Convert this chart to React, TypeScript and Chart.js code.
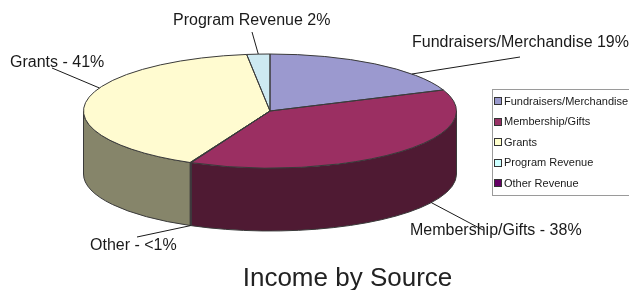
import { useEffect, useRef } from "react";
import { Chart, registerables } from "chart.js";

Chart.register(...registerables);

// ---- data (pie order, clockwise from 12 o'clock) ----
const categories = [
  "Fundraisers/Merchandise",
  "Membership/Gifts",
  "Other Revenue",
  "Grants",
  "Program Revenue",
];
const shares = [19, 38, 0.1, 41, 2];
const sliceLabels = [
  "Fundraisers/Merchandise 19%",
  "Membership/Gifts - 38%",
  "Other - <1%",
  "Grants - 41%",
  "Program Revenue 2%",
];
const legendOrder = [0, 1, 3, 4, 2];
const chartTitle = "Income by Source";

// ---- styles ----
const topColors = ["#9b99cf", "#9b2f62", "#660066", "#fffbd0", "#cde9f1"];
const sideColors = ["#4d4c80", "#4f1a33", "#3a0a3a", "#86856a", "#6a8a90"];
const legendColors = ["#9999cc", "#993366", "#660066", "#ffffcc", "#ccffff"];
const OUTLINE = "#3a3a3a";
const FONT = "'Liberation Sans', Arial, Helvetica, sans-serif";
const GEOM = { cx: 270, cy: 111, rx: 186.5, ry: 57, depth: 63 };

// label placement: fraction within slice, face of the pie, text origin, leader start
const labelLayout = [
  { t: 0.725, face: "top", tx: 412, ty: 47, lx: 520, ly: 57 },
  { t: 0.379, face: "bottom", tx: 410, ty: 235, lx: 483, ly: 230 },
  { t: 0.5, face: "bottom", tx: 90, ty: 250, lx: 137, ly: 237 },
  { t: 0.6, face: "top", tx: 10, ty: 67, lx: 52, ly: 68 },
  { t: 0.5, face: "top", tx: 173, ty: 25, lx: 252, ly: 32 },
];

const pie3d = {
  id: "pie3d",
  beforeDatasetsDraw(chart: any) {
    const ctx = chart.ctx as CanvasRenderingContext2D;
    const arcs = chart.getDatasetMeta(0).data as any[];
    if (!arcs.length) return;
    const { cx, cy, rx, ry, depth } = GEOM;
    ctx.save();
    ctx.lineWidth = 1;
    ctx.strokeStyle = OUTLINE;
    ctx.lineJoin = "round";
    arcs.forEach((arc, i) => {
      const { startAngle, endAngle } = arc.getProps(["startAngle", "endAngle"], true);
      const a1 = Math.max(startAngle, 0);
      const a2 = Math.min(endAngle, Math.PI);
      if (a2 <= a1) return;
      ctx.beginPath();
      ctx.ellipse(cx, cy, rx, ry, 0, a1, a2);
      ctx.lineTo(cx + rx * Math.cos(a2), cy + depth + ry * Math.sin(a2));
      ctx.ellipse(cx, cy + depth, rx, ry, 0, a2, a1, true);
      ctx.closePath();
      ctx.fillStyle = sideColors[i];
      ctx.fill();
      ctx.stroke();
    });
    ctx.restore();
    const { x, y, outerRadius } = arcs[0].getProps(["x", "y", "outerRadius"], true);
    ctx.save();
    ctx.translate(cx, cy);
    ctx.scale(rx / outerRadius, ry / outerRadius);
    ctx.translate(-x, -y);
  },
  afterDatasetsDraw(chart: any) {
    const ctx = chart.ctx as CanvasRenderingContext2D;
    ctx.restore();
    const arcs = chart.getDatasetMeta(0).data as any[];
    if (!arcs.length) return;
    const { cx, cy, rx, ry, depth } = GEOM;
    ctx.save();
    ctx.lineWidth = 1;
    ctx.strokeStyle = OUTLINE;
    ctx.lineJoin = "round";
    arcs.forEach((arc) => {
      const { startAngle, endAngle } = arc.getProps(["startAngle", "endAngle"], true);
      ctx.beginPath();
      ctx.moveTo(cx, cy);
      ctx.lineTo(cx + rx * Math.cos(startAngle), cy + ry * Math.sin(startAngle));
      ctx.ellipse(cx, cy, rx, ry, 0, startAngle, endAngle);
      ctx.closePath();
      ctx.stroke();
    });
    // labels with leader lines
    ctx.fillStyle = "#1a1a1a";
    ctx.strokeStyle = "#1a1a1a";
    ctx.font = `16px ${FONT}`;
    ctx.textBaseline = "alphabetic";
    ctx.textAlign = "left";
    arcs.forEach((arc, i) => {
      const L = labelLayout[i];
      const { startAngle, endAngle } = arc.getProps(["startAngle", "endAngle"], true);
      const a = startAngle + (endAngle - startAngle) * L.t;
      const ey = (L.face === "bottom" ? cy + depth : cy) + ry * Math.sin(a);
      const ex = cx + rx * Math.cos(a);
      ctx.beginPath();
      ctx.moveTo(L.lx, L.ly);
      ctx.lineTo(ex, ey);
      ctx.stroke();
      ctx.fillText(sliceLabels[i], L.tx, L.ty);
    });
    ctx.restore();
  },
  afterDraw(chart: any) {
    const ctx = chart.ctx as CanvasRenderingContext2D;
    ctx.save();
    ctx.strokeStyle = "#9a9a9a";
    ctx.lineWidth = 1;
    ctx.strokeRect(492.5, 89.5, 140, 106);
    ctx.font = `11px ${FONT}`;
    ctx.textBaseline = "middle";
    ctx.textAlign = "left";
    legendOrder.forEach((idx, k) => {
      const yc = 101 + k * 20.5;
      ctx.fillStyle = legendColors[idx];
      ctx.fillRect(495, Math.round(yc) - 3, 6, 6);
      ctx.strokeStyle = "#333";
      ctx.strokeRect(494.5, Math.round(yc) - 3.5, 7, 7);
      ctx.fillStyle = "#1a1a1a";
      ctx.fillText(categories[idx], 504, yc + 0.5);
    });
    ctx.restore();
  },
};

export default function App() {
  const ref = useRef<HTMLCanvasElement>(null);
  useEffect(() => {
    const chart = new Chart(ref.current as HTMLCanvasElement, {
      type: "pie",
      data: {
        labels: categories,
        datasets: [{ data: shares, backgroundColor: topColors, borderWidth: 0 }],
      },
      options: {
        responsive: false,
        animation: false,
        events: [],
        layout: { padding: { left: 66 } },
        plugins: {
          legend: { display: false },
          tooltip: { enabled: false },
          title: {
            display: true,
            text: chartTitle,
            position: "bottom",
            color: "#222",
            padding: 0,
            font: { family: FONT, size: 26, weight: "normal", lineHeight: 0.85 },
          },
        },
      } as any,
      plugins: [pie3d],
    });
    return () => chart.destroy();
  }, []);
  return (
    <div style={{ position: "fixed", left: 0, top: 0, width: 629, height: 290, background: "#fff" }}>
      <canvas ref={ref} width={629} height={290} style={{ display: "block" }} />
    </div>
  );
}
